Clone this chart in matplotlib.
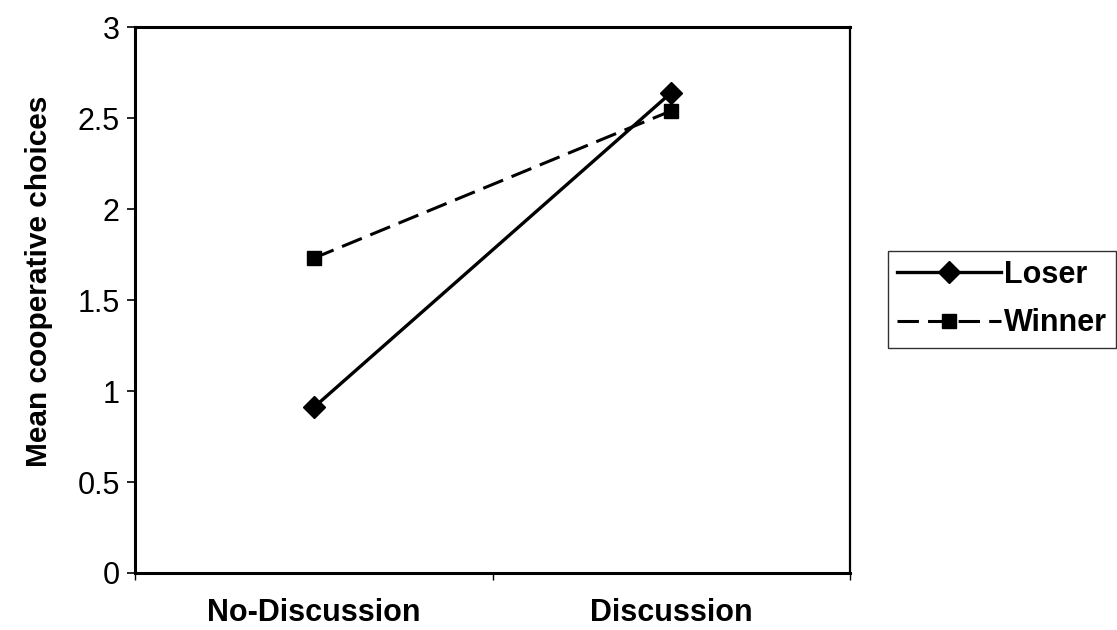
import matplotlib
matplotlib.use("Agg")
import matplotlib.pyplot as plt
from matplotlib.ticker import FixedLocator

conditions = ["No-Discussion", "Discussion"]
loser = [0.91, 2.64]
winner = [1.73, 2.54]
y_ticks = [0, 0.5, 1, 1.5, 2, 2.5, 3]
y_tick_labels = ["0", "0.5", "1", "1.5", "2", "2.5", "3"]

plt.rcParams["font.family"] = ["Liberation Sans", "DejaVu Sans"]

fig = plt.figure(figsize=(11.17, 6.3), dpi=100)
ax = fig.add_axes([0.1209, 0.0905, 0.6401, 0.8665])

x = list(range(len(conditions)))
ax.plot(x, loser, color="black", linewidth=2.4, marker="D", markersize=11.5,
        label="Loser")
ax.plot(x, winner, color="black", linewidth=2.2, linestyle=(0, (7, 3)),
        marker="s", markersize=10, label="Winner")

ax.set_xlim(-0.5, 1.5)
ax.set_ylim(0, 3)
ax.set_xticks(x)
ax.set_xticklabels(conditions, fontsize=22, fontweight="bold")
# category boundary ticks along the bottom axis
ax.xaxis.set_minor_locator(FixedLocator([-0.5, 0.5, 1.5]))
ax.tick_params(axis="x", which="major", length=0, pad=18)
ax.tick_params(axis="x", which="minor", length=5, width=1.0, direction="out")
ax.set_yticks(y_ticks)
ax.set_yticklabels(y_tick_labels, fontsize=22)
ax.tick_params(axis="y", length=6, width=1.2, direction="out", pad=5)
ax.set_ylabel("Mean cooperative choices", fontsize=21.5, fontweight="bold")
ax.yaxis.set_label_coords(-0.115, 0.535)

for side in ["left", "bottom", "top"]:
    ax.spines[side].set_linewidth(2.2)
    ax.spines[side].set_color("black")
ax.spines["right"].set_linewidth(1.6)

leg = ax.legend(loc="upper left", bbox_to_anchor=(1.053, 0.59),
                fontsize=22, frameon=True, fancybox=False,
                handlelength=3.4, handletextpad=0.1, borderpad=0.3,
                labelspacing=0.6, borderaxespad=0)
leg.get_frame().set_edgecolor("black")
leg.get_frame().set_linewidth(1.0)
for t in leg.get_texts():
    t.set_fontweight("bold")

fig.savefig("out.png", dpi=100)
